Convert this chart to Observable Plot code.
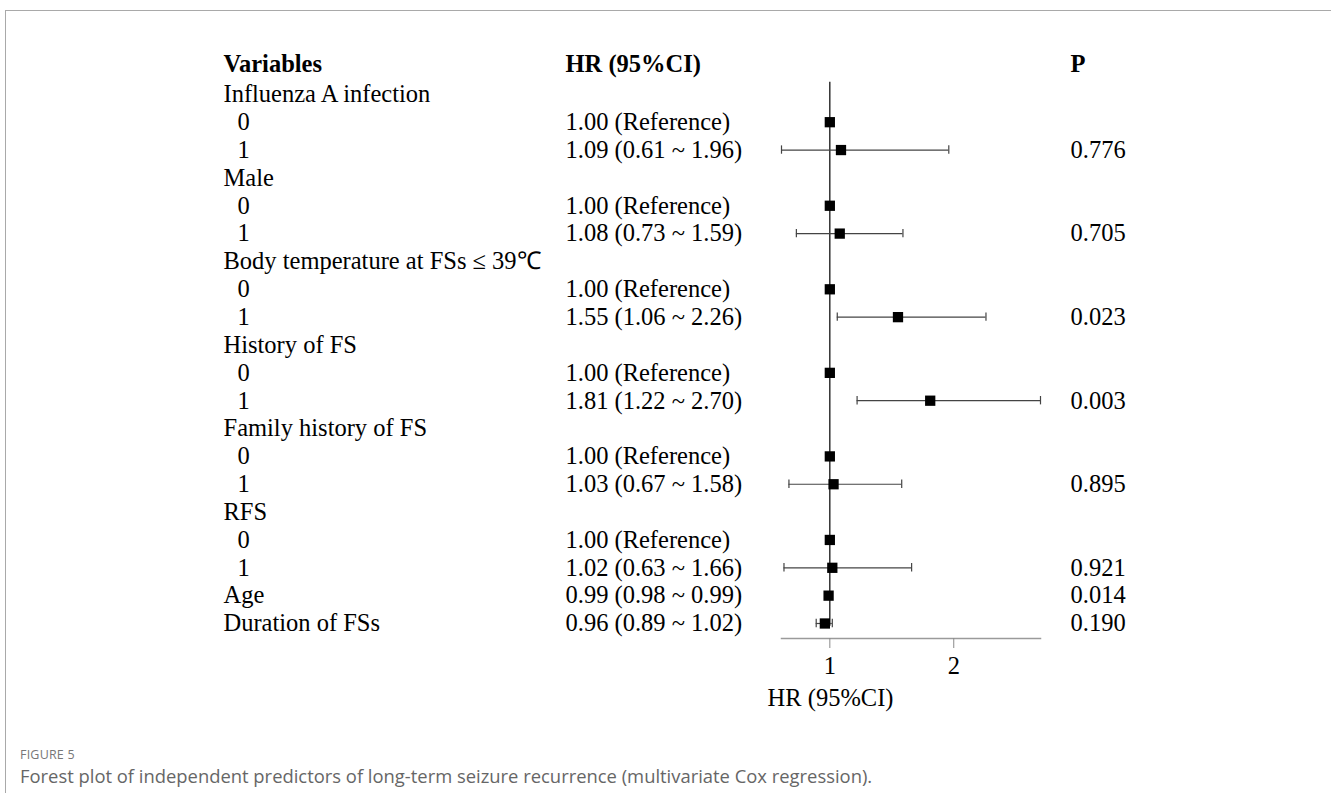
<!DOCTYPE html>
<html>
<head>
<meta charset="utf-8">
<script src="https://cdn.jsdelivr.net/npm/d3@7"></script>
<script src="https://cdn.jsdelivr.net/npm/@observablehq/plot@0.6"></script>
<style>
  html, body { margin: 0; padding: 0; background: #fff; }
  #frame { position: absolute; left: 5px; top: 10px; width: 1326px; height: 782px;
           border-top: 1px solid #a9a9a9; border-left: 1px solid #a9a9a9; }
  #chart { position: absolute; left: 0; top: 0; }
  #fig { position: absolute; left: 20px; top: 746px; font-family: "Open Sans", sans-serif;
         font-size: 12.5px; color: #777; letter-spacing: 0.2px; }
  #cap { position: absolute; left: 20px; top: 763px; font-family: "Open Sans", sans-serif;
         font-size: 18.4px; color: #666; }
</style>
</head>
<body>
<div id="frame"></div>
<div id="chart"></div>
<div id="fig">FIGURE 5</div>
<div id="cap">Forest plot of independent predictors of long-term seizure recurrence (multivariate Cox regression).</div>
<script>
const labels = ["Influenza A infection","0","1","Male","0","1","Body temperature at FSs \u2264 39\u2103","0","1",
  "History of FS","0","1","Family history of FS","0","1","RFS","0","1","Age","Duration of FSs"];
const isLevel = [0,1,1,0,1,1,0,1,1,0,1,1,0,1,1,0,1,1,0,0];
const hr = [null,1.00,1.09,null,1.00,1.08,null,1.00,1.55,null,1.00,1.81,null,1.00,1.03,null,1.00,1.02,0.99,0.96];
const lo = [null,null,0.61,null,null,0.73,null,null,1.06,null,null,1.22,null,null,0.67,null,null,0.63,0.98,0.89];
const hi = [null,null,1.96,null,null,1.59,null,null,2.26,null,null,2.70,null,null,1.58,null,null,1.66,0.99,1.02];
const pvals = ["","","0.776","","","0.705","","","0.023","","","0.003","","","0.895","","","0.921","0.014","0.190"];
const headers = ["Variables","HR (95%CI)","P"];
const xTicks = [1, 2];

const f2 = d3.format(".2f");
const rows = labels.map((label, i) => ({
  row: i + 1, label, level: isLevel[i], hr: hr[i], lo: lo[i], hi: hi[i], p: pvals[i],
  txt: hr[i] == null ? "" : (lo[i] == null ? `${f2(hr[i])} (Reference)` : `${f2(hr[i])} (${f2(lo[i])} ~ ${f2(hi[i])})`)
}));
const ci = rows.filter(d => d.lo != null);
const pts = rows.filter(d => d.hr != null);

const FONT = "'Liberation Serif', 'Times New Roman', serif";
const FS = 24.5;
// column offsets relative to the forest panel's left edge
const X0 = 781;
const colVar = 223 - X0, colLvl = 237 - X0, colHR = 565 - X0, colP = 1070 - X0;
const headerDx = [colVar, colHR, colP];

const plot = Plot.plot({
  width: 1331,
  height: 735,
  marginLeft: X0,
  marginRight: 1331 - 1040,
  marginTop: 60,
  marginBottom: 97,
  style: { fontFamily: FONT, background: "transparent", overflow: "visible" },
  x: { type: "linear", domain: [0.61, 2.70], axis: null },
  y: { type: "linear", domain: [0, 20], range: [66, 623], axis: null },
  marks: [
    Plot.frame({ anchor: "bottom", stroke: "#9a9a9a", strokeWidth: 1.5 }),
    Plot.axisX(xTicks, { tickSize: 10, stroke: "#8a8a8a", fill: "black", fontSize: FS, tickPadding: 8,
      tickFormat: d3.format("d"), label: null, fontFamily: FONT }),
    Plot.text(["HR (95%CI)"], { frameAnchor: "bottom-left", dx: 830 - X0, dy: 698 - 638, lineAnchor: "middle",
      fontSize: FS, fill: "black", textAnchor: "middle", fontFamily: FONT }),
    Plot.ruleX([1], { y1: 0.57, y2: 20.1, stroke: "black", strokeWidth: 1.2 }),
    Plot.ruleY(ci, { y: "row", x1: "lo", x2: "hi", stroke: "#444", strokeWidth: 1.2 }),
    Plot.ruleX(ci, { x: "lo", y1: d => d.row - 0.15, y2: d => d.row + 0.15, stroke: "#444", strokeWidth: 1.2 }),
    Plot.ruleX(ci, { x: "hi", y1: d => d.row - 0.15, y2: d => d.row + 0.15, stroke: "#444", strokeWidth: 1.2 }),
    Plot.dot(pts, { x: "hr", y: "row", symbol: "square", r: 5.8, fill: "black", stroke: "none" }),
    // header row, one mark per column
    ...headers.map((h, i) => Plot.text([h], { y: () => 0, frameAnchor: "left", dx: headerDx[i], dy: -2,
      fontWeight: "bold", fontSize: FS, textAnchor: "start", fill: "black" })),
    // variables
    Plot.text(rows.filter(d => !d.level), { y: "row", text: "label", frameAnchor: "left", dx: colVar,
      fontSize: FS, textAnchor: "start", fill: "black" }),
    Plot.text(rows.filter(d => d.level), { y: "row", text: "label", frameAnchor: "left", dx: colLvl,
      fontSize: FS, textAnchor: "start", fill: "black" }),
    Plot.text(rows, { y: "row", text: "txt", frameAnchor: "left", dx: colHR,
      fontSize: FS, textAnchor: "start", fill: "black" }),
    Plot.text(rows, { y: "row", text: "p", frameAnchor: "left", dx: colP,
      fontSize: FS, textAnchor: "start", fill: "black" })
  ]
});

document.getElementById("chart").appendChild(plot);
</script>
</body>
</html>
